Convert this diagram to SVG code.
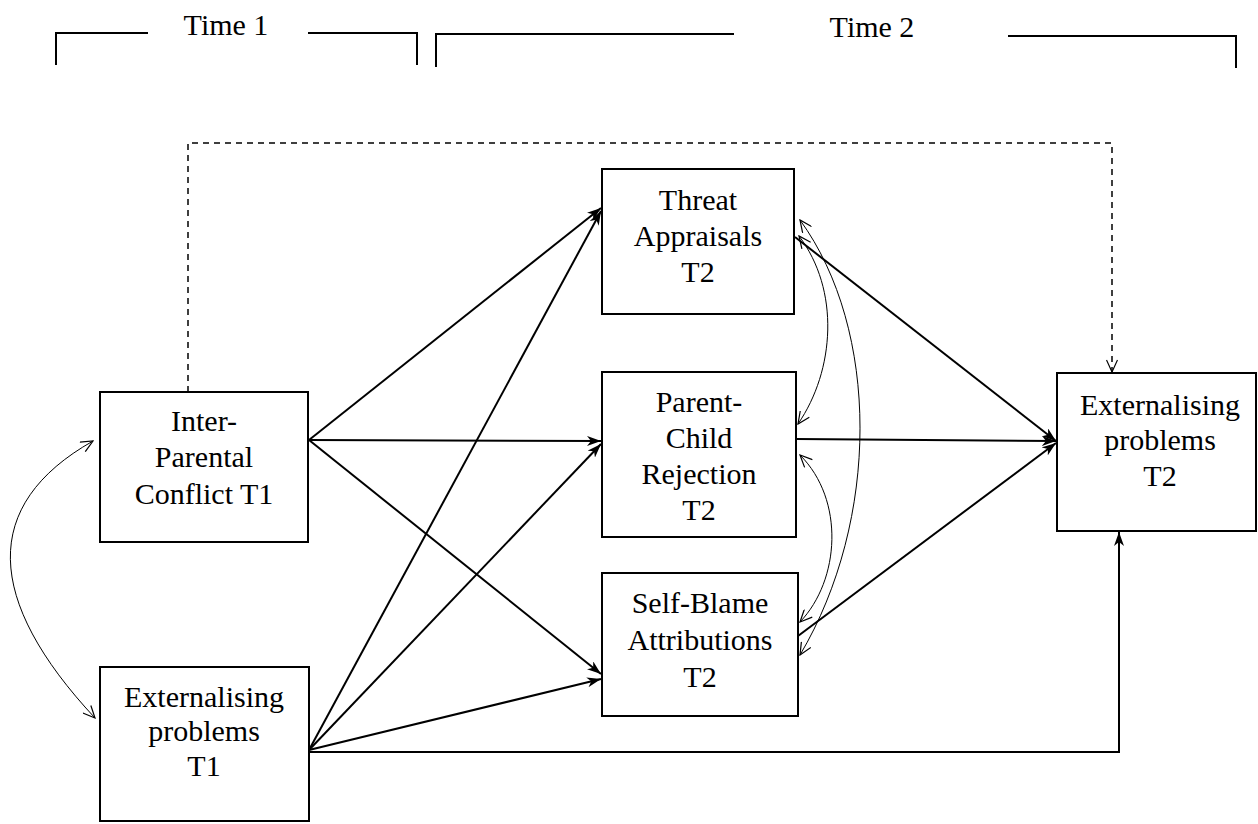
<svg xmlns="http://www.w3.org/2000/svg" width="1258" height="824" viewBox="0 0 1258 824">
  <defs>
    <marker id="head" viewBox="0 0 14 10" refX="14" refY="5" markerWidth="14" markerHeight="10" markerUnits="userSpaceOnUse" orient="auto">
      <path d="M0,0 L14,5 L0,10 L4,5 z" fill="#000"/>
    </marker>
    <marker id="open" viewBox="0 0 14 12" refX="13" refY="6" markerWidth="14" markerHeight="12" markerUnits="userSpaceOnUse" orient="auto-start-reverse">
      <path d="M1,0.5 L13,6 L1,11.5" fill="none" stroke="#000" stroke-width="1.2"/>
    </marker>
  </defs>

  <!-- time period brackets -->
  <g id="time-brackets" fill="none" stroke="#000" stroke-width="2">
    <path d="M56,65 V33 H148"/>
    <path d="M308,33 H417 V65"/>
    <path d="M436,67 V34 H734"/>
    <path d="M1008,36 H1236 V68"/>
  </g>
  <g id="time-labels" font-family="Liberation Serif" font-size="30" text-anchor="middle" fill="#000">
    <text x="226" y="35">Time 1</text>
    <text x="872" y="37">Time 2</text>
  </g>

  <!-- connectors -->
  <g id="connectors" fill="none" stroke="#000">
    <!-- direct (dashed) path -->
    <path d="M188,392 V143 H1112 V372" stroke-width="1.5" stroke-dasharray="6 5" marker-end="url(#open)"/>
    <g stroke-width="2" marker-end="url(#head)">
      <!-- from inter-parental conflict -->
      <path d="M309,440 L601,208"/>
      <path d="M309,440 L601,441"/>
      <path d="M309,440 L601,674"/>
      <!-- from externalising problems T1 -->
      <path d="M309,750 L601,211"/>
      <path d="M309,750 L601,444"/>
      <path d="M309,750 L601,679"/>
      <path d="M309,752 H1119 V532"/>
      <!-- mediators to outcome -->
      <path d="M795,237 L1056,441"/>
      <path d="M797,439 L1056,441"/>
      <path d="M798,636 L1056,443"/>
    </g>
    <!-- covariances -->
    <g stroke-width="1" marker-start="url(#open)" marker-end="url(#open)">
      <path d="M93,441 C-20,505 -15,600 95,718"/>
      <path d="M799,236 C840,290 835,370 798,424"/>
      <path d="M800,220 C880,330 880,520 800,655"/>
      <path d="M800,455 C845,500 840,580 800,622"/>
    </g>
  </g>

  <g id="inter-parental-conflict-t1" font-family="Liberation Serif" font-size="30" text-anchor="middle">
    <rect x="100" y="392" width="208" height="150" fill="#fff" stroke="#000" stroke-width="2"/>
    <text x="204" y="431">Inter-</text>
    <text x="204" y="467">Parental</text>
    <text x="204" y="504">Conflict T1</text>
  </g>

  <g id="externalising-problems-t1" font-family="Liberation Serif" font-size="30" text-anchor="middle">
    <rect x="100" y="667" width="209" height="154" fill="#fff" stroke="#000" stroke-width="2"/>
    <text x="204" y="707">Externalising</text>
    <text x="204" y="741">problems</text>
    <text x="204" y="776">T1</text>
  </g>

  <g id="threat-appraisals-t2" font-family="Liberation Serif" font-size="30" text-anchor="middle">
    <rect x="602" y="169" width="192" height="145" fill="#fff" stroke="#000" stroke-width="2"/>
    <text x="698" y="210">Threat</text>
    <text x="698" y="246">Appraisals</text>
    <text x="698" y="282">T2</text>
  </g>

  <g id="parent-child-rejection-t2" font-family="Liberation Serif" font-size="30" text-anchor="middle">
    <rect x="602" y="372" width="194" height="165" fill="#fff" stroke="#000" stroke-width="2"/>
    <text x="699" y="412">Parent-</text>
    <text x="699" y="448">Child</text>
    <text x="699" y="484">Rejection</text>
    <text x="699" y="520">T2</text>
  </g>

  <g id="self-blame-attributions-t2" font-family="Liberation Serif" font-size="30" text-anchor="middle">
    <rect x="602" y="573" width="196" height="143" fill="#fff" stroke="#000" stroke-width="2"/>
    <text x="700" y="613">Self-Blame</text>
    <text x="700" y="650">Attributions</text>
    <text x="700" y="687">T2</text>
  </g>

  <g id="externalising-problems-t2" font-family="Liberation Serif" font-size="30" text-anchor="middle">
    <rect x="1057" y="373" width="199" height="158" fill="#fff" stroke="#000" stroke-width="2"/>
    <text x="1160" y="415">Externalising</text>
    <text x="1160" y="450">problems</text>
    <text x="1160" y="486">T2</text>
  </g>
</svg>
